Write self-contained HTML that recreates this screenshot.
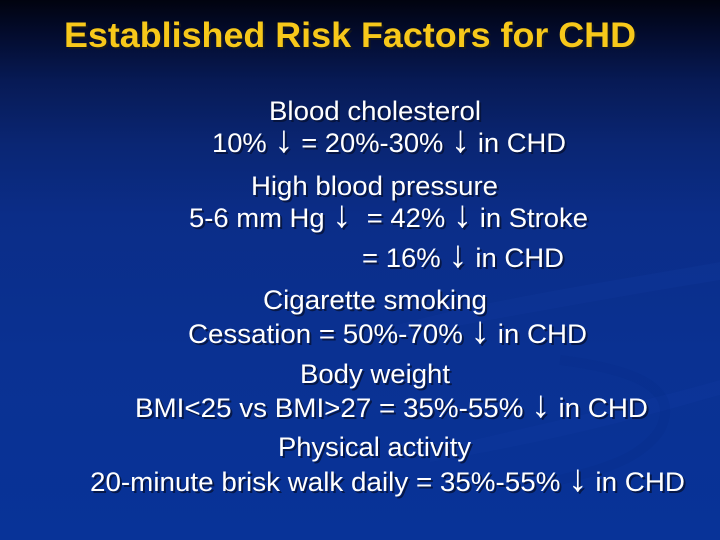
<!DOCTYPE html>
<html><head><meta charset="utf-8"><style>
html,body{margin:0;padding:0;background:#0a2f90;}
svg{display:block;}
.a{font-size:38px;}
</style></head><body>
<svg width="720" height="540" viewBox="0 0 720 540" xmlns="http://www.w3.org/2000/svg">
<defs>
<linearGradient id="bg" x1="0" y1="0" x2="0" y2="1">
<stop offset="0" stop-color="#01030f"/>
<stop offset="0.06" stop-color="#030b2c"/>
<stop offset="0.15" stop-color="#071a55"/>
<stop offset="0.27" stop-color="#0a2674"/>
<stop offset="0.4" stop-color="#0b2d88"/>
<stop offset="0.65" stop-color="#0a3192"/>
<stop offset="1" stop-color="#083398"/>
</linearGradient>
</defs>
<rect width="720" height="540" fill="url(#bg)"/>
<!-- faint swooshes -->
<path d="M380 330 C 480 300, 620 280, 720 262 L720 280 C 620 296, 500 318, 380 340 Z" fill="#1a46b0" opacity="0.15"/>
<path d="M430 450 C 560 420, 650 400, 720 380 L720 395 C 650 415, 560 440, 430 462 Z" fill="#1a46b0" opacity="0.15"/>
<path d="M560 360 C 640 370, 680 390, 660 430 C 640 460, 600 470, 560 480" fill="none" stroke="#062a80" stroke-width="10" opacity="0.15"/>

<g font-family="'Liberation Sans', Arial, sans-serif">
<!-- title -->
<text x="66" y="49" font-size="35" font-weight="bold" fill="#1a1a1a" opacity="0.8" textLength="572" lengthAdjust="spacingAndGlyphs">Established Risk Factors for CHD</text>
<text x="64" y="47" font-size="35" font-weight="bold" fill="#f7c81a" textLength="572" lengthAdjust="spacingAndGlyphs">Established Risk Factors for CHD</text>

<g font-size="27">
<g fill="#061030" opacity="0.75" transform="translate(2,2)">
<text x="269" y="120" textLength="212" lengthAdjust="spacingAndGlyphs">Blood cholesterol</text>
<text x="212" y="152" textLength="354" lengthAdjust="spacingAndGlyphs">10% <tspan class="a">↓</tspan> = 20%-30% <tspan class="a">↓</tspan> in CHD</text>
<text x="251" y="195" textLength="247" lengthAdjust="spacingAndGlyphs">High blood pressure</text>
<text x="189" y="227" textLength="399" lengthAdjust="spacingAndGlyphs">5-6 mm Hg <tspan class="a">↓</tspan>&#160; = 42% <tspan class="a">↓</tspan> in Stroke</text>
<text x="362" y="267" textLength="202" lengthAdjust="spacingAndGlyphs">= 16% <tspan class="a">↓</tspan> in CHD</text>
<text x="263" y="309" textLength="224" lengthAdjust="spacingAndGlyphs">Cigarette smoking</text>
<text x="188" y="343" textLength="399" lengthAdjust="spacingAndGlyphs">Cessation = 50%-70% <tspan class="a">↓</tspan> in CHD</text>
<text x="300" y="383" textLength="150" lengthAdjust="spacingAndGlyphs">Body weight</text>
<text x="135" y="417" textLength="513" lengthAdjust="spacingAndGlyphs">BMI&lt;25 vs BMI&gt;27 = 35%-55% <tspan class="a">↓</tspan> in CHD</text>
<text x="278" y="456" textLength="193" lengthAdjust="spacingAndGlyphs">Physical activity</text>
<text x="90" y="491" textLength="595" lengthAdjust="spacingAndGlyphs">20-minute brisk walk daily = 35%-55% <tspan class="a">↓</tspan> in CHD</text>
</g>
<g fill="#ffffff">
<text x="269" y="120" textLength="212" lengthAdjust="spacingAndGlyphs">Blood cholesterol</text>
<text x="212" y="152" textLength="354" lengthAdjust="spacingAndGlyphs">10% <tspan class="a">↓</tspan> = 20%-30% <tspan class="a">↓</tspan> in CHD</text>
<text x="251" y="195" textLength="247" lengthAdjust="spacingAndGlyphs">High blood pressure</text>
<text x="189" y="227" textLength="399" lengthAdjust="spacingAndGlyphs">5-6 mm Hg <tspan class="a">↓</tspan>&#160; = 42% <tspan class="a">↓</tspan> in Stroke</text>
<text x="362" y="267" textLength="202" lengthAdjust="spacingAndGlyphs">= 16% <tspan class="a">↓</tspan> in CHD</text>
<text x="263" y="309" textLength="224" lengthAdjust="spacingAndGlyphs">Cigarette smoking</text>
<text x="188" y="343" textLength="399" lengthAdjust="spacingAndGlyphs">Cessation = 50%-70% <tspan class="a">↓</tspan> in CHD</text>
<text x="300" y="383" textLength="150" lengthAdjust="spacingAndGlyphs">Body weight</text>
<text x="135" y="417" textLength="513" lengthAdjust="spacingAndGlyphs">BMI&lt;25 vs BMI&gt;27 = 35%-55% <tspan class="a">↓</tspan> in CHD</text>
<text x="278" y="456" textLength="193" lengthAdjust="spacingAndGlyphs">Physical activity</text>
<text x="90" y="491" textLength="595" lengthAdjust="spacingAndGlyphs">20-minute brisk walk daily = 35%-55% <tspan class="a">↓</tspan> in CHD</text>
</g>
</g>
</g>
</svg>
</body></html>
